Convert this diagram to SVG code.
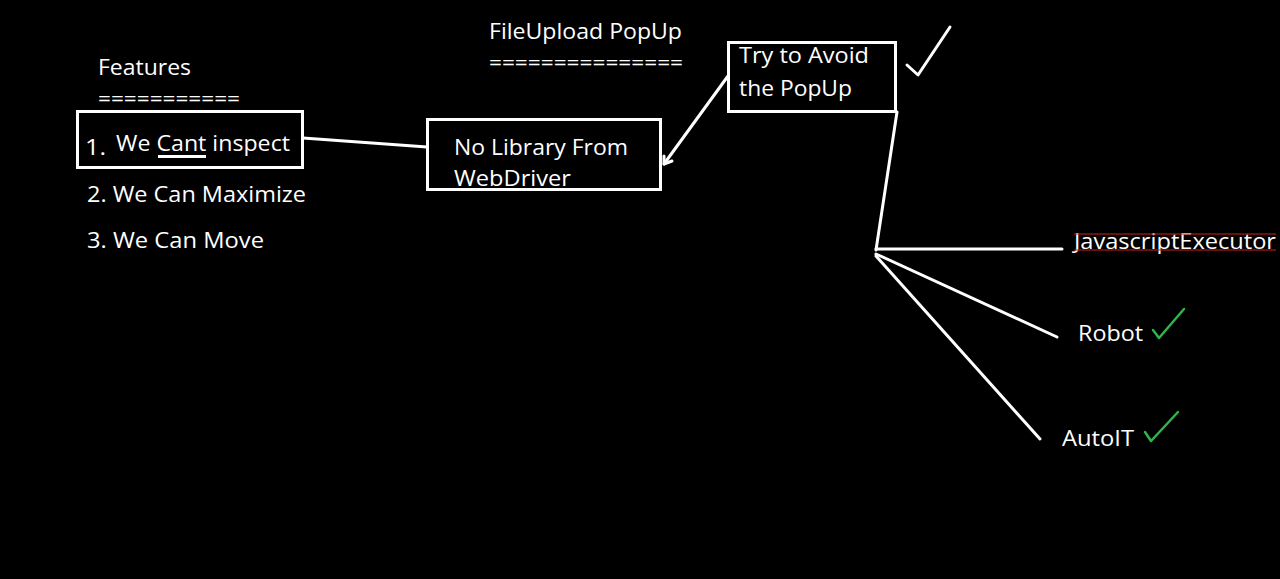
<svg xmlns="http://www.w3.org/2000/svg" width="1280" height="579" viewBox="0 0 1280 579">
<style>
text{font-family:"Open Sans","Noto Sans",sans-serif;font-size:22px;fill:#fff}
.box{fill:none;stroke:#fff;stroke-width:3}
.ln{fill:none;stroke:#fff;stroke-width:3;stroke-linecap:round;stroke-linejoin:round}
.gc{fill:none;stroke:#2fb34a;stroke-width:2.5;stroke-linecap:round;stroke-linejoin:round}
.red{stroke:#d02020;stroke-width:1.2}
</style>
<rect width="1280" height="579" fill="#000"/>
<g id="title-features">
<text x="98" y="75" textLength="93" lengthAdjust="spacingAndGlyphs">Features</text>
<text x="98" y="106" textLength="142" lengthAdjust="spacingAndGlyphs">===========</text>
</g>
<g id="title-popup">
<text x="489" y="39" textLength="193" lengthAdjust="spacingAndGlyphs">FileUpload PopUp</text>
<text x="489" y="70" textLength="194" lengthAdjust="spacingAndGlyphs">===============</text>
</g>
<g id="node-cant-inspect">
<rect class="box" x="77.5" y="111.5" width="225" height="56"/>
<text x="85" y="155" font-size="20" textLength="21" lengthAdjust="spacingAndGlyphs">1.</text>
<text x="116" y="151" textLength="174" lengthAdjust="spacingAndGlyphs">We Cant inspect</text>
<line x1="158" y1="156.5" x2="206" y2="156.5" stroke="#fff" stroke-width="3"/>
</g>
<g id="item-maximize">
<text x="87" y="202" textLength="219" lengthAdjust="spacingAndGlyphs">2. We Can Maximize</text>
</g>
<g id="item-move">
<text x="87" y="248" textLength="177" lengthAdjust="spacingAndGlyphs">3. We Can Move</text>
</g>
<g id="node-no-library">
<rect class="box" x="427.5" y="119.5" width="233" height="70"/>
<text x="454" y="155" textLength="174" lengthAdjust="spacingAndGlyphs">No Library From</text>
<text x="454" y="186" textLength="117" lengthAdjust="spacingAndGlyphs">WebDriver</text>
</g>
<g id="node-avoid">
<rect class="box" x="728.5" y="42.5" width="167" height="69"/>
<text x="739" y="63" textLength="130" lengthAdjust="spacingAndGlyphs">Try to Avoid</text>
<text x="739" y="96" textLength="113" lengthAdjust="spacingAndGlyphs">the PopUp</text>
<polyline class="ln" points="907,65 918,75 950,27"/>
</g>
<g id="node-js">
<text x="1074" y="249" textLength="202" lengthAdjust="spacingAndGlyphs">JavascriptExecutor</text>
<line class="red" x1="1074" y1="234" x2="1276" y2="234"/>
<line class="red" x1="1074" y1="250" x2="1276" y2="250"/>
</g>
<g id="node-robot">
<text x="1078" y="341" textLength="65" lengthAdjust="spacingAndGlyphs">Robot</text>
<polyline class="gc" points="1153,330 1159,338 1184,309"/>
</g>
<g id="node-autoit">
<text x="1062" y="446" textLength="72" lengthAdjust="spacingAndGlyphs">AutoIT</text>
<polyline class="gc" points="1145,432 1151,441 1178,412"/>
</g>
<g id="connectors">
<line class="ln" x1="303" y1="138" x2="427" y2="147"/>
<line class="ln" x1="728" y1="76" x2="664" y2="164"/>
<polyline class="ln" points="664,156 664,164 672,161"/>
<line class="ln" x1="897" y1="112" x2="876" y2="250"/>
<line class="ln" x1="876" y1="249" x2="1062" y2="249"/>
<line class="ln" x1="876" y1="254" x2="1057" y2="337"/>
<line class="ln" x1="876" y1="256" x2="1040" y2="439"/>
</g>
</svg>
